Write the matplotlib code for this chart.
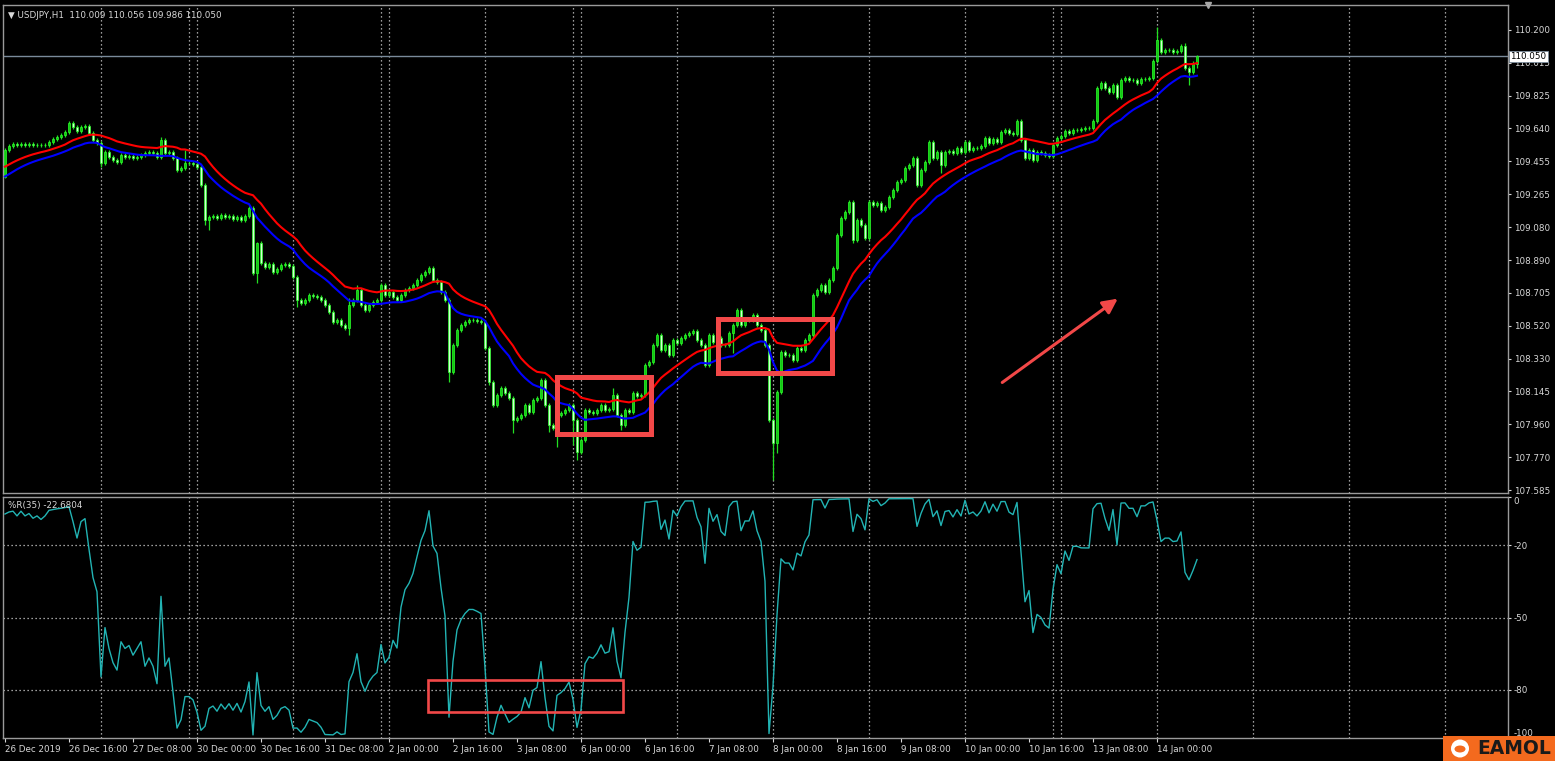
import numpy as np
import matplotlib
matplotlib.use("Agg")
import matplotlib.pyplot as plt
from matplotlib.patches import Rectangle, FancyArrowPatch, Ellipse

# ---------------- data (USDJPY H1) ----------------
closes = [
    109.518, 109.541, 109.552, 109.548, 109.552, 109.548, 109.550, 109.546, 109.548, 109.545,
    109.548, 109.565, 109.579, 109.593, 109.605, 109.622, 109.670, 109.650, 109.628, 109.650,
    109.654, 109.613, 109.575, 109.556, 109.442, 109.508, 109.480, 109.461, 109.451, 109.489,
    109.480, 109.484, 109.471, 109.480, 109.489, 109.499, 109.508, 109.499, 109.480, 109.575,
    109.499, 109.508, 109.471, 109.404, 109.414, 109.442, 109.442, 109.438, 109.423, 109.319,
    109.120, 109.139, 109.143, 109.130, 109.148, 109.135, 109.143, 109.124, 109.139, 109.120,
    109.143, 109.186, 108.817, 108.987, 108.874, 108.854, 108.870, 108.826, 108.840, 108.864,
    108.870, 108.858, 108.796, 108.665, 108.648, 108.665, 108.694, 108.688, 108.682, 108.665,
    108.637, 108.597, 108.540, 108.551, 108.523, 108.506, 108.637, 108.665, 108.722, 108.637,
    108.608, 108.637, 108.654, 108.665, 108.750, 108.694, 108.711, 108.682, 108.665, 108.694,
    108.722, 108.733, 108.750, 108.779, 108.807, 108.824, 108.847, 108.779, 108.767, 108.711,
    108.665, 108.256, 108.409, 108.495, 108.523, 108.540, 108.551, 108.551, 108.546, 108.540,
    108.392, 108.199, 108.068, 108.125, 108.165, 108.136, 108.108, 107.983, 107.994, 108.011,
    108.068, 108.028, 108.097, 108.108, 108.210, 108.068, 107.955, 107.937, 108.011, 108.023,
    108.040, 108.068, 107.983, 107.801, 107.869, 108.040, 108.028, 108.023, 108.040, 108.068,
    108.040, 108.045, 108.125, 108.011, 107.955, 108.040, 108.028, 108.136, 108.119, 108.125,
    108.296, 108.313, 108.409, 108.466, 108.381, 108.409, 108.352, 108.438, 108.421, 108.449,
    108.466, 108.478, 108.489, 108.438, 108.409, 108.296, 108.466, 108.426, 108.449, 108.409,
    108.409, 108.478, 108.523, 108.608, 108.523, 108.551, 108.551, 108.580, 108.523, 108.495,
    108.409, 107.983, 107.852, 108.142, 108.369, 108.352, 108.352, 108.324, 108.392, 108.381,
    108.438, 108.466, 108.693, 108.722, 108.750, 108.711, 108.779, 108.847, 109.035, 109.131,
    109.165, 109.222, 109.006, 109.120, 109.091, 109.017, 109.222, 109.205, 109.216, 109.177,
    109.194, 109.251, 109.291, 109.336, 109.347, 109.415, 109.432, 109.472, 109.319, 109.404,
    109.450, 109.563, 109.472, 109.506, 109.432, 109.506, 109.512, 109.501, 109.529, 109.506,
    109.563, 109.518, 109.529, 109.529, 109.541, 109.586, 109.558, 109.580, 109.563, 109.620,
    109.632, 109.614, 109.609, 109.683, 109.575, 109.472, 109.518, 109.461, 109.506, 109.501,
    109.489, 109.484, 109.546, 109.586, 109.597, 109.626, 109.614, 109.632, 109.632, 109.637,
    109.643, 109.643, 109.683, 109.870, 109.899, 109.870, 109.847, 109.887, 109.819, 109.916,
    109.927, 109.916, 109.916, 109.899, 109.921, 109.921, 109.927, 110.024, 110.143, 110.075,
    110.086, 110.086, 110.075, 110.081, 110.109, 109.984, 109.961, 110.009, 110.050,
]
first_open = 109.364
typical_wick = 0.012

highs_read = {0: 109.530, 16: 109.683, 39: 109.592, 45: 109.518, 63: 108.993, 86: 108.677,
              88: 108.750, 94: 108.762, 106: 108.858, 152: 108.165, 216: 109.233,
              288: 110.217, 295: 110.126, 298: 110.056}
lows_read = {0: 109.360, 24: 109.421, 50: 109.091, 51: 109.063, 62: 108.807, 63: 108.762,
             73: 108.625, 86: 108.466, 111: 108.199, 121: 108.182, 127: 107.909, 136: 107.915,
             138: 107.829, 142: 107.841, 143: 107.756, 154: 107.926, 175: 108.284, 182: 108.364,
             190: 108.398, 192: 107.642, 193: 107.795, 212: 108.989, 228: 109.307, 234: 109.387,
             255: 109.461, 273: 109.671, 296: 109.887, 298: 109.986}

ma_period = 20
red_ma_start = 109.423   # MA of highs at first visible bar
blue_ma_start = 109.367  # MA of lows at first visible bar
wr_period = 35

x_labels = ["26 Dec 2019", "26 Dec 16:00", "27 Dec 08:00", "30 Dec 00:00", "30 Dec 16:00",
            "31 Dec 08:00", "2 Jan 00:00", "2 Jan 16:00", "3 Jan 08:00", "6 Jan 00:00",
            "6 Jan 16:00", "7 Jan 08:00", "8 Jan 00:00", "8 Jan 16:00", "9 Jan 08:00",
            "10 Jan 00:00", "10 Jan 16:00", "13 Jan 08:00", "14 Jan 00:00"]
price_ticks = [110.200, 110.015, 109.825, 109.640, 109.455, 109.265, 109.080, 108.890,
               108.705, 108.520, 108.330, 108.145, 107.960, 107.770, 107.585]
wr_ticks = [0, -20, -50, -80, -100]
wr_levels = [-20, -50, -80]
bid_price = 110.050
header = "\u25bc USDJPY,H1  110.009 110.056 109.986 110.050"
wr_title = "%R(35) -22.6804"

# ---------------- derived series ----------------
c = np.array(closes)
n = len(c)
o = np.concatenate([[first_open], c[:-1]])
h = np.maximum(o, c) + typical_wick
l = np.minimum(o, c) - typical_wick
for k, v in highs_read.items():
    h[k] = v
for k, v in lows_read.items():
    l[k] = v
x = np.arange(n)


def ema(src, period, start):
    a = 2.0 / (period + 1)
    out = np.empty(len(src))
    out[0] = start
    for i in range(1, len(src)):
        out[i] = out[i - 1] + a * (src[i] - out[i - 1])
    return out


red_ma = ema(h, ma_period, red_ma_start)
blue_ma = ema(l, ma_period, blue_ma_start)

wr = np.empty(n)
for i in range(n):
    s = max(0, i - wr_period + 1)
    hh = h[s:i + 1].max()
    ll = l[s:i + 1].min()
    wr[i] = -100.0 * (hh - c[i]) / (hh - ll) if hh > ll else -50.0

# ---------------- figure ----------------
W, H = 1555, 761
fig = plt.figure(figsize=(W / 100, H / 100), dpi=100, facecolor="black")
plt.rcParams["font.family"] = ["DejaVu Sans"]

def px_box(x0, y0, x1, y1):
    return [x0 / W, 1 - y1 / H, (x1 - x0) / W, (y1 - y0) / H]

ax1 = fig.add_axes(px_box(3, 5, 1508, 493))
ax2 = fig.add_axes(px_box(3, 497, 1508, 738), sharex=ax1)

grid_col = "#d0d0d0"
axis_col = "#9a9a9a"
text_col = "#d8d8d8"
grid_bars = [24, 46, 48, 72, 94, 96, 120, 142, 144, 168, 192, 216, 240, 262, 264, 288, 312, 336, 360]

for ax in (ax1, ax2):
    ax.set_facecolor("black")
    for sp in ax.spines.values():
        sp.set_color(axis_col)
        sp.set_linewidth(1.0)
    for gb in grid_bars:
        ax.axvline(gb, color=grid_col, lw=0.9, ls=(0, (1, 2.2)), zorder=0.5)

ax1.set_xlim(-0.5, 375.75)
ax1.set_ylim(107.568, 110.342)
ax2.set_ylim(-100, 0)

# candles
bull = c >= o
wick_col = "#22e022"
ax1.vlines(x, l, h, color=wick_col, lw=0.9, zorder=2)
body_lo = np.minimum(o, c)
body_h = np.maximum(np.abs(c - o), 0.002)
ax1.bar(x[bull], body_h[bull], bottom=body_lo[bull], width=0.7, color="#12c812",
        edgecolor="#2aff2a", linewidth=0.5, zorder=3)
ax1.bar(x[~bull], body_h[~bull], bottom=body_lo[~bull], width=0.7, color="#d2ffd2",
        edgecolor="#2aff2a", linewidth=0.5, zorder=3)

# moving averages
ax1.plot(x, red_ma, color="#ff0000", lw=1.5, zorder=4)
ax1.plot(x, blue_ma, color="#0000ff", lw=1.5, zorder=4)

# bid line
ax1.axhline(bid_price, color="#7a8a9a", lw=1.0, zorder=1)

# price axis
ax1.yaxis.tick_right()
ax1.set_yticks(price_ticks)
ax1.set_yticklabels([f"{p:.3f}" for p in price_ticks])
ax1.tick_params(axis="y", colors=text_col, labelsize=6.3, length=2, pad=2, width=0.8)
ax1.tick_params(axis="x", bottom=False, labelbottom=False)
ax1.text(1.0015, bid_price, f"{bid_price:.3f}", transform=ax1.get_yaxis_transform(),
         ha="left", va="center", fontsize=6.3, color="black", zorder=10,
         bbox=dict(boxstyle="square,pad=0.15", fc="white", ec="#7a8a9a", lw=0.6), clip_on=False)

ax1.text(0.0035, 0.987, header, transform=ax1.transAxes, ha="left", va="top",
         fontsize=6.3, color=text_col)
ax1.plot([300.8], [1.0], marker="v", color="#a8a8a8", ms=4.5, transform=ax1.get_xaxis_transform(),
         clip_on=False, zorder=6)

# annotations on the price panel
ann_col = "#f24848"
ax1.add_patch(Rectangle((138.0, 107.903), 23.5, 108.227 - 107.903, fill=False,
                        ec=ann_col, lw=3.6, zorder=7))
ax1.add_patch(Rectangle((178.25, 108.250), 28.5, 108.557 - 108.250, fill=False,
                        ec=ann_col, lw=3.6, zorder=7))
ax1.add_patch(FancyArrowPatch((248.75, 108.187), (278.75, 108.682), arrowstyle="-|>",
                              mutation_scale=22, color=ann_col, lw=2.2, zorder=7))

# Williams %R panel
ax2.plot(x, wr, color="#22b4b4", lw=1.0, zorder=3)
for lv in wr_levels:
    ax2.axhline(lv, color=grid_col, lw=0.9, ls=(0, (1, 2.2)), zorder=0.5)
ax2.yaxis.tick_right()
ax2.set_yticks(wr_ticks)
ax2.set_yticklabels([str(t) for t in wr_ticks])
ax2.tick_params(axis="y", colors=text_col, labelsize=6.3, length=2, pad=2, width=0.8)
for lab, t in zip(ax2.get_yticklabels(), wr_ticks):
    if t == 0:
        lab.set_va("top")
    elif t == -100:
        lab.set_va("bottom")
ax2.text(0.0035, 0.985, wr_title, transform=ax2.transAxes, ha="left", va="top",
         fontsize=6.3, color=text_col, zorder=6)
ax2.add_patch(Rectangle((105.75, -89.2), 154.5 - 105.75, 13.3, fill=False,
                        ec=ann_col, lw=1.9, zorder=7))

# time axis
ax2.set_xticks(np.arange(len(x_labels)) * 16)
ax2.set_xticklabels(x_labels)
ax2.tick_params(axis="x", colors=text_col, labelsize=6.3, length=3, pad=2, width=0.8)
for lab in ax2.get_xticklabels():
    lab.set_ha("left")

# logo
fig.patches.append(Rectangle((1443 / W, 0), 112 / W, 25 / H, transform=fig.transFigure,
                             fc="#f46a1e", ec="none", zorder=5))
fig.patches.append(Ellipse((1460 / W, 12.5 / H), 18 / W, 18 / H, transform=fig.transFigure,
                           fc="white", ec="none", zorder=6))
fig.patches.append(Ellipse((1460 / W, 12 / H), 11 / W, 7 / H, transform=fig.transFigure,
                           fc="#f46a1e", ec="none", zorder=7))
fig.text(1477 / W, 12.5 / H, "EAMOL", ha="left", va="center", fontsize=13.5,
         color="#1a1a1a", fontweight="bold", zorder=7)

fig.savefig("out.png", dpi=100, facecolor="black")
